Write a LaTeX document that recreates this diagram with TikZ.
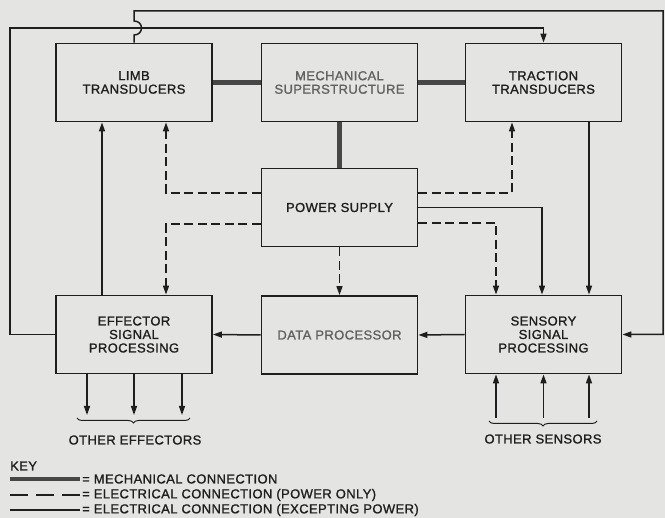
\documentclass[tikz,border=0pt]{standalone}
\usepackage{fontspec}
\setmainfont{Liberation Sans}[LetterSpace=3.0,FakeBold=1.2]
\usetikzlibrary{arrows.meta,decorations.pathreplacing}
\definecolor{bg}{HTML}{E4E4E2}
\definecolor{ink}{HTML}{1E1E1E}
\begin{document}
\begin{tikzpicture}[x=1pt,y=-1pt,
  box/.style={draw=ink, line width=1.8pt, fill=bg, minimum width=156pt, minimum height=78pt,
    align=center, font=\fontsize{13}{13.5}\selectfont, text=ink, inner sep=0pt},
  greytxt/.style={text=black!62},
  wire/.style={draw=ink, line width=1.5pt},
  pw/.style={wire, dash pattern=on 9pt off 4.5pt},
  mech/.style={draw=black!72, line width=5pt},
  tip/.style={-{Triangle[length=9pt,width=6pt]}},
  lbl/.style={font=\fontsize{13}{13.5}\selectfont, text=ink, inner sep=0pt},
]
\fill[bg] (0,0) rectangle (665,518);
\useasboundingbox (0,0) rectangle (665,518);

% boxes
\node[box] (limb) at (134,82.5) {LIMB\\TRANSDUCERS};
\node[box, greytxt] (mech) at (339.5,82.5) {MECHANICAL\\SUPERSTRUCTURE};
\node[box] (trac) at (543.5,82.5) {TRACTION\\TRANSDUCERS};
\node[box] (power) at (339.5,207.5) {POWER SUPPLY};
\node[box] (eff) at (134,334.5) {EFFECTOR\\SIGNAL\\PROCESSING};
\node[box, greytxt] (data) at (339.5,335) {DATA PROCESSOR};
\node[box] (sens) at (543.5,334.5) {SENSORY\\SIGNAL\\PROCESSING};

% mechanical connections
\draw[mech] (limb.east) -- (mech.west);
\draw[mech] (mech.east) -- (trac.west);
\draw[mech] (mech.south) -- (power.north);

% outer loops
\coordinate (tl) at (10,28);
\draw[wire,tip] (eff.west) -| (tl) -| (trac.north);
\coordinate (hopA) at (134,35);
\coordinate (hopB) at (134,21);
\coordinate (tr) at (663,11);
\draw[wire,tip] (limb.north) -- (hopA) .. controls (144,35) and (144,21) .. (hopB) |- (tr) |- (sens.east);

% electrical connections
\draw[wire,tip] ([xshift=-32pt]eff.north) -- ([xshift=-32pt]limb.south);
\draw[pw,tip] ([yshift=14.5pt]power.west) -| ([xshift=32pt]limb.south);
\draw[pw,tip] ([yshift=-16.5pt]power.west) -| ([xshift=32pt]eff.north);
\draw[pw,tip] ([yshift=14.5pt]power.east) -| ([xshift=-31.5pt]trac.south);
\draw[wire,tip] (power.east) -| ([xshift=-1.5pt]sens.north);
\draw[pw,tip] ([yshift=-15.5pt]power.east) -| ([xshift=-47.5pt]sens.north);
\draw[wire,tip] ([xshift=45.5pt]trac.south) -- ([xshift=45.5pt]sens.north);
\draw[pw,tip] (power.south) -- (data.north);
\draw[wire,tip] (data.west) -- (eff.east);
\draw[wire,tip] (sens.west) -- (data.east);

% other effectors / sensors
\foreach \dx/\n in {-47/e1, 0/e2, 48/e3} {
  \coordinate (\n) at (134+\dx,415);
  \draw[wire,tip] ([xshift=\dx pt]eff.south) -- (\n);
}
\foreach \dx/\n in {-47.5/s1, 0/s2, 45.5/s3} {
  \coordinate (\n) at (543.5+\dx,418);
  \draw[wire,tip] (\n) -- ([xshift=\dx pt]sens.south);
}
\draw[draw=ink, line width=1pt, decorate, decoration={brace, amplitude=5pt, mirror}] (77,418) -- (190,418);
\draw[draw=ink, line width=1pt, decorate, decoration={brace, amplitude=5pt, mirror}] (489,421) -- (597,421);
\node[lbl] (oe) at (135,440) {OTHER EFFECTORS};
\node[lbl] (os) at (543,439) {OTHER SENSORS};

% key
\node[lbl, anchor=west] (key) at (10,466) {KEY};
\coordinate (k1a) at (10,479); \coordinate (k1b) at (80,479);
\coordinate (k2a) at (10,495); \coordinate (k2b) at (80,495);
\coordinate (k3a) at (10,510); \coordinate (k3b) at (80,510);
\draw[mech, line width=4pt] (k1a) -- (k1b);
\draw[wire, dash pattern=on 18pt off 8pt] (k2a) -- (k2b);
\draw[wire] (k3a) -- (k3b);
\node[lbl, anchor=west] (k1) at (82,479) {= MECHANICAL CONNECTION};
\node[lbl, anchor=west] (k2) at (82,495) {= ELECTRICAL CONNECTION (POWER ONLY)};
\node[lbl, anchor=west] (k3) at (82,510) {= ELECTRICAL CONNECTION (EXCEPTING POWER)};
\end{tikzpicture}
\end{document}
